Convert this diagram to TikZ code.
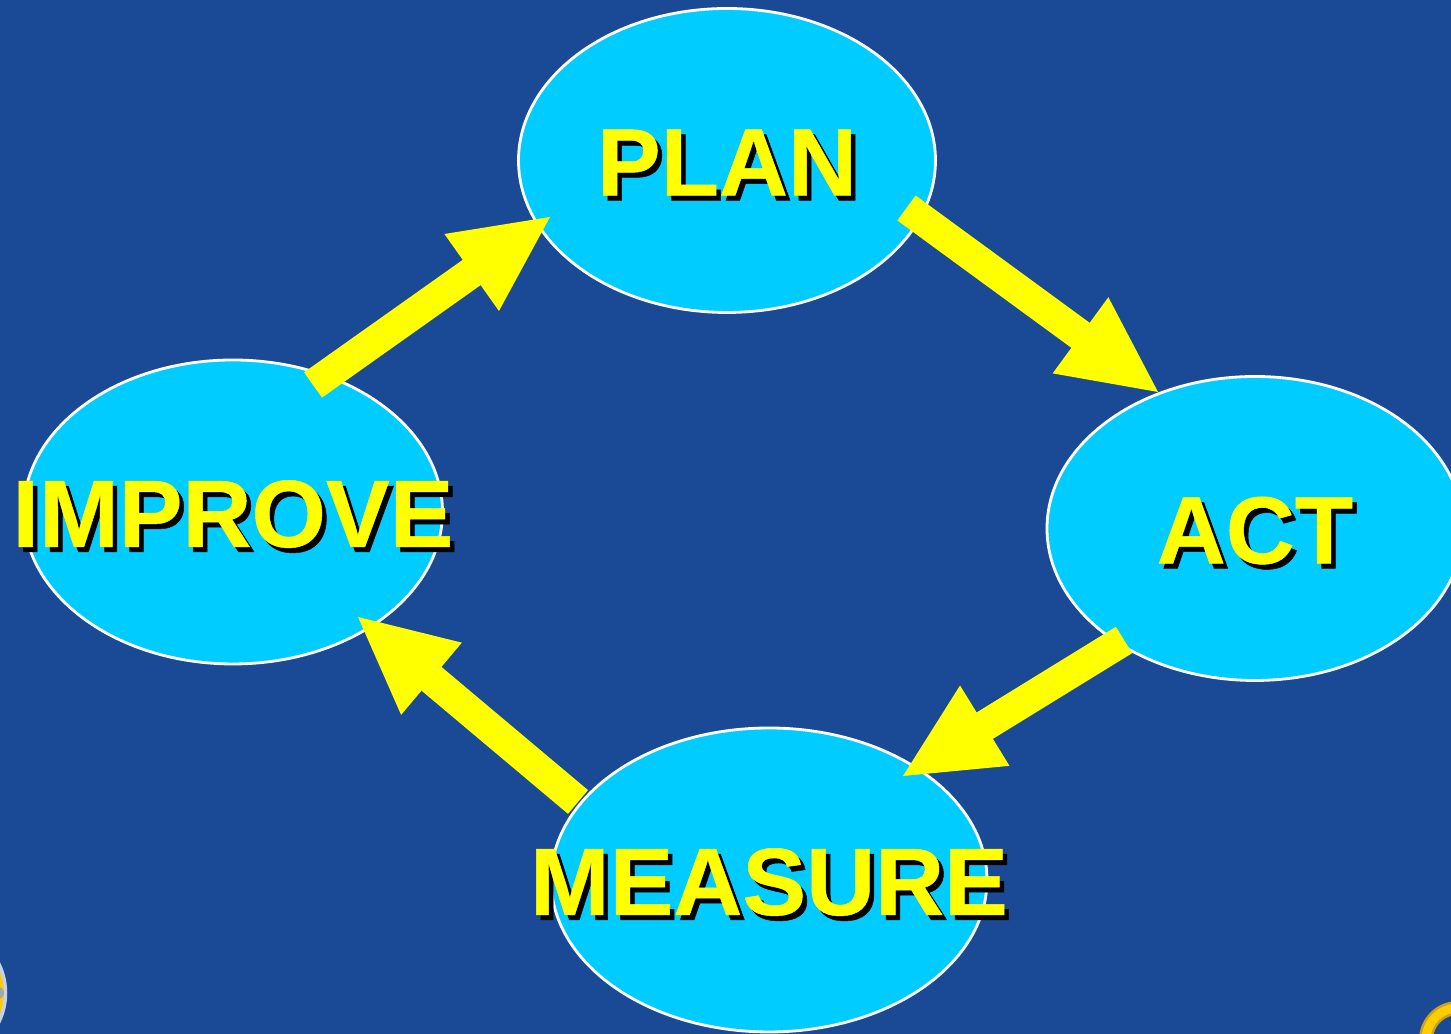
\documentclass[tikz,border=0pt]{standalone}
\usepackage{fontspec}
\setmainfont{Liberation Sans}[BoldFeatures={FakeBold=0.5}]
\usetikzlibrary{arrows.meta, shapes.geometric}

\definecolor{slidebg}{HTML}{1A4A96}
\definecolor{bubble}{HTML}{00CCFF}
\definecolor{signal}{RGB}{255,255,0}
\definecolor{ringgold}{HTML}{FFCC00}
\definecolor{ringdark}{HTML}{C9A21A}

\newcommand{\dropped}[1]{\raisebox{-0.35cm}[0pt][0pt]{\makebox[0pt][c]{\makebox[0pt][c]{\hspace{0.09cm}\raisebox{-0.05cm}{\textcolor{black}{#1}}}\makebox[0pt][c]{#1}}}}

\begin{document}
\begin{tikzpicture}[
  stage/.style={ellipse, draw=white, line width=0.8pt, fill=bubble, inner sep=0pt,
    minimum width=4.17cm, minimum height=3.04cm, text=signal,
    font=\fontsize{27.2}{30}\selectfont\bfseries},
  flow/.style={draw=signal, line width=0.31cm, -{Triangle[length=0.96cm, width=0.94cm, line width=0.4pt, fill=signal]}}
  ]
  \useasboundingbox (0,0) rectangle (14.51,10.34);
  \clip (0,0) rectangle (14.51,10.34);
  \fill[slidebg] (0,0) rectangle (14.51,10.34);

  % Corner marks
  \fill[ringgold, draw=white!75!slidebg, line width=1pt] (-0.61,0.41) circle (0.665);
  \fill[gray!70] (-0.02,0.41) circle (0.06);
  \draw[ringdark, line width=0.14cm] (14.58,-0.06) circle (0.32);
  \draw[ringgold, line width=0.09cm] (14.58,-0.06) circle (0.32);

  % Stages
  \node[stage] (plan) at (7.27,8.735) {\dropped{PLAN}};
  \node[stage, minimum width=4.16cm] (act) at (12.55,5.055) {\dropped{ACT}};
  \node[stage, minimum width=4.36cm] (measure) at (7.69,1.54) {\dropped{MEASURE}};
  \node[stage, minimum width=4.19cm] (improve) at (2.33,5.22) {\dropped{IMPROVE}};

  % Arrow ends
  \coordinate (planout) at (9.065,8.26);
  \coordinate (actin) at (11.58,6.42);
  \coordinate (actout) at (11.24,3.94);
  \coordinate (measurein) at (9.03,2.58);
  \coordinate (measureout) at (5.78,2.32);
  \coordinate (improvein) at (3.58,4.17);
  \coordinate (improveout) at (3.13,6.49);
  \coordinate (planin) at (5.50,8.17);

  % Arrows
  \draw[flow] (planout) -- (actin);
  \draw[flow] (actout) -- (measurein);
  \draw[flow] (measureout) -- (improvein);
  \draw[flow] (improveout) -- (planin);

\end{tikzpicture}
\end{document}
